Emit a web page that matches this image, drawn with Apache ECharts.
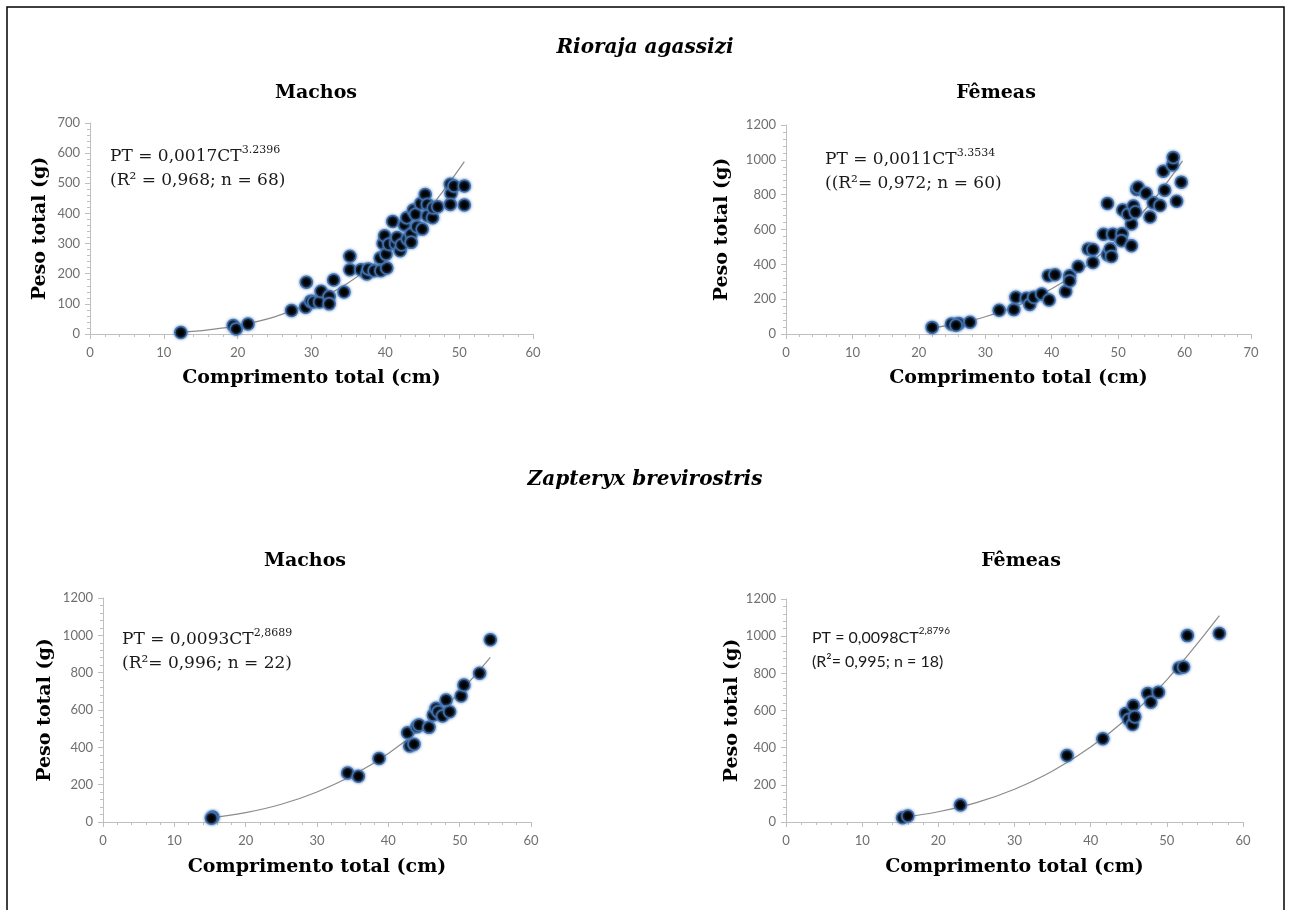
<!DOCTYPE html>
<html><head><meta charset="utf-8">
<script src="https://cdn.jsdelivr.net/npm/echarts@6/dist/echarts.min.js"></script>
<style>html,body{margin:0;padding:0;background:#fff}#c{width:1290px;height:910px}</style>
</head><body><div id="c"></div><script>
// Rioraja agassizi - Machos
const ramX = [12.3,19.4,19.8,21.4,27.3,29.3,29.2,29.9,30.3,31.1,31.3,32.4,32.4,33.0,34.4,35.2,35.2,36.7,37.5,37.7,38.5,39.4,40.2,39.3,39.7,40.1,39.9,40.5,41.0,41.4,41.6,42.0,42.2,42.6,42.9,43.0,43.5,43.5,43.8,44.1,44.3,44.8,45.0,45.4,45.7,45.7,46.4,46.5,47.1,48.8,48.9,48.8,49.3,50.7,50.7];
const ramY = [5,28,17,33,78,172,89,109,106,106,142,124,100,179,139,213,258,213,199,216,210,210,219,252,300,265,326,298,373,300,320,276,296,362,386,315,331,304,411,397,356,433,348,463,430,392,386,419,422,497,466,430,491,491,428];
const ramTrendX = [12.3,16,20,25,30,35,40,45,50.7];
const ramTrendY = [6,14,28,57,104,170,264,387,572];
// Rioraja agassizi - Fêmeas
const rafX = [22.0,24.9,26.0,25.6,27.7,32.1,34.3,34.6,36.2,36.7,37.3,38.5,39.6,39.5,40.5,42.1,42.7,42.7,44.0,45.5,46.2,46.2,47.8,48.4,48.4,48.8,49.2,49.0,50.6,50.7,50.5,52.0,52.0,51.5,52.3,52.8,53.0,52.6,54.2,55.3,54.8,56.3,57.0,56.8,58.2,58.3,58.8,59.5];
const rafY = [38,58,61,50,67,136,140,211,205,170,211,230,195,334,340,244,334,305,387,488,485,411,573,749,455,488,573,445,575,712,536,507,632,688,735,830,843,700,808,753,672,738,826,935,970,1014,762,872];
const rafTrendX = [22,26,30,35,40,45,50,55,59.7];
const rafTrendY = [35,61,99,166,260,385,549,755,994];
// Zapteryx brevirostris - Machos
const zbmX = [15.4,15.2,34.3,35.8,38.7,42.7,43.0,43.6,44.0,44.3,45.7,46.3,46.7,47.0,47.6,48.1,48.6,50.2,50.6,52.8,54.3];
const zbmY = [27,20,263,245,340,478,407,417,510,520,507,573,609,591,568,654,591,675,734,797,976];
const zbmTrendX = [15.3,20,25,30,35,40,45,50,54.3];
const zbmTrendY = [23,50,95,161,250,367,514,696,882];
// Zapteryx brevirostris - Fêmeas
const zbfX = [15.3,16.0,22.9,36.9,41.6,44.6,45.0,45.5,45.6,45.8,47.5,47.9,48.9,51.6,52.2,52.7,56.9];
const zbfY = [23,32,91,358,448,584,552,525,627,566,691,645,698,829,834,1003,1014];
const zbfTrendX = [15.3,20,25,30,35,40,45,50,56.9];
const zbfTrendY = [25,55,104,176,274,403,565,765,1110];

const xMax = [60, 70, 60, 60];
const yMax = [700, 1200, 1200, 1200];
const yInt = [100, 200, 200, 200];

const xTitle = 'Comprimento total (cm)';
const yTitle = 'Peso total (g)';

const serif = 'DejaVu Serif';
const axisGray = '#bfbfbf';
const labelGray = '#6f6f6f';

const grids = [
  {left: 90, top: 123, width: 443, height: 211},
  {left: 786, top: 125, width: 465, height: 209},
  {left: 103, top: 598, width: 428, height: 224},
  {left: 786, top: 599, width: 457, height: 223}
];
const xNameGap = [35, 35, 36, 36];
const yNameGap = [40, 54, 48, 43];

function xAxis(i) {
  return {
    type: 'value', gridIndex: i, min: 0, max: xMax[i], interval: 10,
    axisLine: {show: true, onZero: false, lineStyle: {color: axisGray, width: 1}},
    axisTick: {show: true, length: 5, lineStyle: {color: axisGray}},
    minorTick: {show: true, splitNumber: 5, length: 3, lineStyle: {color: axisGray}},
    splitLine: {show: false}, minorSplitLine: {show: false},
    axisLabel: {color: labelGray, fontFamily: 'Lato', fontSize: 13, margin: 12, formatter: v => String(v)},
    name: xTitle, nameLocation: 'middle', nameGap: xNameGap[i],
    nameTextStyle: {fontFamily: serif, fontWeight: 'bold', fontSize: 19, color: '#000'}
  };
}
function yAxis(i) {
  return {
    type: 'value', gridIndex: i, min: 0, max: yMax[i], interval: yInt[i],
    axisLine: {show: true, onZero: false, lineStyle: {color: axisGray, width: 1}},
    axisTick: {show: true, length: 5, lineStyle: {color: axisGray}},
    minorTick: {show: true, splitNumber: 5, length: 3, lineStyle: {color: axisGray}},
    splitLine: {show: false}, minorSplitLine: {show: false},
    axisLabel: {color: labelGray, fontFamily: 'Lato', fontSize: 13, margin: 10, formatter: v => String(v)},
    name: yTitle, nameLocation: 'middle', nameGap: yNameGap[i], nameRotate: 90,
    nameTextStyle: {fontFamily: serif, fontWeight: 'bold', fontSize: 19, color: '#000'}
  };
}

const sets = [
  [ramX, ramY, ramTrendX, ramTrendY],
  [rafX, rafY, rafTrendX, rafTrendY],
  [zbmX, zbmY, zbmTrendX, zbmTrendY],
  [zbfX, zbfY, zbfTrendX, zbfTrendY]
];
const series = [];
sets.forEach((s, i) => {
  series.push({
    type: 'line', xAxisIndex: i, yAxisIndex: i, smooth: 0.4, symbol: 'none', z: 1,
    lineStyle: {color: '#8c8c8c', width: 1.2},
    data: s[2].map((x, k) => [x, s[3][k]])
  });
  series.push({
    type: 'scatter', xAxisIndex: i, yAxisIndex: i, symbol: 'circle', symbolSize: 12, z: 2,
    itemStyle: {color: '#000', borderColor: '#3f6fae', borderWidth: 1.5, shadowBlur: 3, shadowColor: 'rgba(79,129,189,0.9)', opacity: 1},
    data: s[0].map((x, k) => [x, s[1][k]])
  });
});

function titleText(txt, cx, cy, italic, size) {
  return {type: 'text', x: cx, y: cy, style: {text: txt, align: 'center', verticalAlign: 'middle',
    font: (italic ? 'italic ' : '') + 'bold ' + size + 'px "' + serif + '"', fill: '#000'}};
}
function eqText(x, y, l1, sup, l2, family, size) {
  return {type: 'text', x: x, y: y, style: {
    text: '{n|' + l1 + '}{s|' + sup + '}\n{n|' + l2 + '}',
    rich: {
      n: {fontFamily: family, fontSize: size, fill: '#1a1a1a', lineHeight: 24},
      s: {fontFamily: family, fontSize: Math.round(size * 0.62), fill: '#1a1a1a', lineHeight: 14, verticalAlign: 'top'}
    }
  }};
}

const option = {
  animation: false,
  backgroundColor: '#fff',
  grid: grids,
  xAxis: [0,1,2,3].map(xAxis),
  yAxis: [0,1,2,3].map(yAxis),
  series: series,
  graphic: [
    {type: 'rect', shape: {x: 7, y: 7, width: 1277, height: 940}, style: {fill: null, stroke: '#000', lineWidth: 1.5}, silent: true},
    titleText('Rioraja agassizi', 645, 48, true, 20),
    titleText('Zapteryx brevirostris', 645, 480, true, 20),
    titleText('Machos', 316, 93, false, 19),
    titleText('Fêmeas', 996, 93, false, 19),
    titleText('Machos', 305, 561, false, 19),
    titleText('Fêmeas', 1021, 561, false, 19),
    eqText(110, 145, 'PT = 0,0017CT', '3.2396', '(R² = 0,968; n = 68)', serif, 17),
    eqText(825, 148, 'PT = 0,0011CT', '3.3534', '((R²= 0,972; n = 60)', serif, 17),
    eqText(122, 628, 'PT = 0,0093CT', '2,8689', '(R²= 0,996; n = 22)', serif, 17),
    eqText(812, 626, 'PT = 0,0098CT', '2,8796', '(R²= 0,995; n = 18)', 'Lato', 16)
  ]
};
const chart = echarts.init(document.getElementById('c'), null, {renderer: 'canvas'});
chart.setOption(option);
</script></body></html>
